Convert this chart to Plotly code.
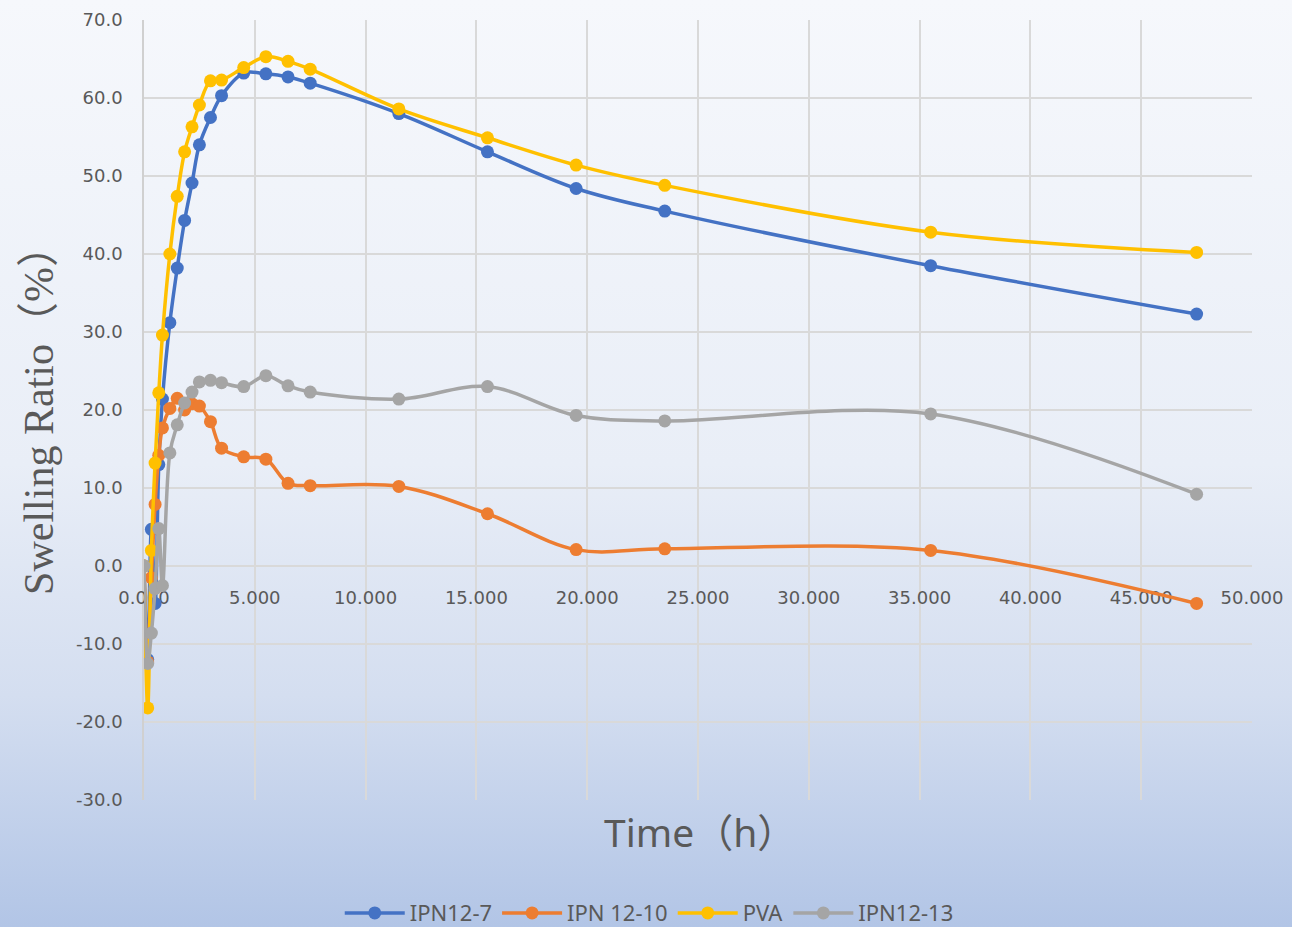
import base64
import plotly.graph_objects as go

# ---- data ----
time_h = [0, 0.167, 0.333, 0.5, 0.667, 0.833, 1.167, 1.5, 1.833, 2.167, 2.5, 3, 3.5,
          4.5, 5.5, 6.5, 7.5, 11.5, 15.5, 19.5, 23.5, 35.5, 47.5]

ipn12_7 = [0, -12.0, 4.7, -4.8, 13.0, 21.4, 31.2, 38.2, 44.3, 49.1, 54.0, 57.5, 60.3,
           63.2, 63.1, 62.7, 61.9, 58.0, 53.1, 48.4, 45.5, 38.5, 32.3]
ipn12_10 = [0, -12.3, -1.5, 7.9, 14.2, 17.7, 20.2, 21.5, 20.0, 20.8, 20.5, 18.5, 15.1,
            14.0, 13.7, 10.6, 10.3, 10.2, 6.7, 2.1, 2.2, 2.0, -4.8]
pva = [0, -18.2, 2.0, 13.2, 22.2, 29.6, 40.0, 47.4, 53.1, 56.3, 59.1, 62.2, 62.3,
       63.9, 65.3, 64.7, 63.7, 58.6, 54.9, 51.4, 48.8, 42.8, 40.2]
ipn12_13 = [0, -12.5, -8.6, -2.9, 4.8, -2.5, 14.5, 18.1, 20.9, 22.3, 23.6, 23.8, 23.5,
            23.0, 24.4, 23.1, 22.3, 21.4, 23.0, 19.3, 18.6, 19.5, 9.2]

series_names = ["IPN12-7", "IPN 12-10", "PVA", "IPN12-13"]
series_colors = ["#4472C4", "#ED7D31", "#FFC000", "#A5A5A5"]

x_ticks = [0, 5, 10, 15, 20, 25, 30, 35, 40, 45, 50]
x_ticktext = [f"{v:.3f}" for v in x_ticks]
y_ticks = [-30, -20, -10, 0, 10, 20, 30, 40, 50, 60, 70]
y_ticktext = [f"{v:.1f}" for v in y_ticks]

W, H = 1292, 927
ML, MR, MT, MB = 144, 40, 20, 127

fig = go.Figure()
for name, ys, col in zip(series_names, [ipn12_7, ipn12_10, pva, ipn12_13], series_colors):
    fig.add_trace(go.Scatter(
        x=time_h, y=ys, name=name, mode="lines+markers",
        line=dict(color=col, width=3.5, shape="spline", smoothing=1.0),
        marker=dict(color=col, size=13, symbol="circle"),
    ))

# gradient background as an SVG image
svg = (f"<svg xmlns='http://www.w3.org/2000/svg' width='{W}' height='{H}' preserveAspectRatio='none'>"
       "<defs><linearGradient id='g' x1='0' y1='0' x2='0' y2='1'>"
       "<stop offset='0' stop-color='#f6f8fc'/>"
       "<stop offset='0.5' stop-color='#e9eef7'/>"
       "<stop offset='0.75' stop-color='#d4def0'/>"
       "<stop offset='1' stop-color='#b2c5e6'/>"
       "</linearGradient></defs>"
       f"<rect x='0' y='0' width='{W}' height='{H}' fill='url(#g)'/></svg>")
uri = "data:image/svg+xml;base64," + base64.b64encode(svg.encode()).decode()
pw, ph = W - ML - MR, H - MT - MB

fig.update_layout(
    width=W, height=H,
    margin=dict(l=ML, r=MR, t=MT, b=MB, pad=0, autoexpand=False),
    paper_bgcolor="#e9eef7", plot_bgcolor="rgba(0,0,0,0)",
    images=[dict(source=uri, xref="paper", yref="paper",
                 x=-ML / pw, y=1 + MT / ph, sizex=W / pw, sizey=H / ph,
                 xanchor="left", yanchor="top", sizing="stretch", layer="below")],
    showlegend=True,
    legend=dict(orientation="h", x=0.456, xanchor="center",
                yref="container", y=0.015, yanchor="middle",
                font=dict(family="Noto Sans", size=22, color="#595959"),
                bgcolor="rgba(0,0,0,0)", itemwidth=60, borderwidth=0),
    xaxis=dict(range=[0, 50], anchor="free", position=0.3,
               tickvals=x_ticks, ticktext=x_ticktext,
               showgrid=True, gridcolor="#d9d9d9", gridwidth=1.5,
               showline=True, linecolor="#d9d9d9", linewidth=1.5,
               zeroline=False, ticks="", ticklabelstandoff=16,
               tickfont=dict(family="DejaVu Sans", size=18, color="#595959"),
               layer="below traces"),
    yaxis=dict(range=[-30, 70], tickvals=y_ticks, ticktext=y_ticktext,
               showgrid=True, gridcolor="#d9d9d9", gridwidth=1.5,
               showline=True, linecolor="#d0d0d0", linewidth=1.5,
               zeroline=False, ticks="", ticklabelstandoff=16,
               tickfont=dict(family="DejaVu Sans", size=18, color="#595959"),
               title=dict(text="Swelling Ratio（%）", standoff=9,
                          font=dict(family="Liberation Serif, Noto Sans CJK SC", size=42, color="#595959")),
               layer="below traces"),
    annotations=[dict(text="Time（h）", xref="paper", yref="paper", x=0.502, y=-0.041,
                      xanchor="center", yanchor="middle", showarrow=False,
                      font=dict(family="Noto Sans, Noto Sans CJK SC", size=39, color="#595959"))],
)

fig.write_html("out.html")
